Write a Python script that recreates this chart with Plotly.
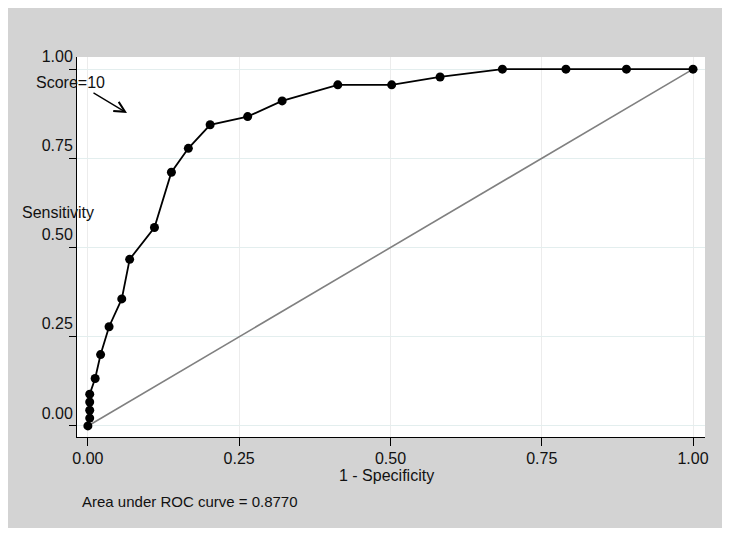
import plotly.graph_objects as go

# ROC curve points (1 - Specificity, Sensitivity)
one_minus_spec = [0.0, 0.003, 0.003, 0.003, 0.003, 0.012, 0.021, 0.035, 0.056, 0.069,
                  0.110, 0.138, 0.166, 0.202, 0.264, 0.321, 0.413, 0.502, 0.582,
                  0.685, 0.790, 0.890, 1.0]
sensitivity = [0.0, 0.022, 0.044, 0.067, 0.089, 0.133, 0.200, 0.278, 0.356, 0.467,
               0.556, 0.711, 0.778, 0.844, 0.867, 0.911, 0.956, 0.956, 0.978,
               1.0, 1.0, 1.0, 1.0]
ref_x = [0.0, 1.0]
ref_y = [0.0, 1.0]
tick_vals = [0.0, 0.25, 0.5, 0.75, 1.0]
tick_text = ["0.00", "0.25", "0.50", "0.75", "1.00"]
auc_text = "Area under ROC curve = 0.8770"

# page is offset by the 8px body margin
OFF = 8
W, H = 714, 520
L, R, T, B = 69, 17, 49, 91
pw, ph = W - L - R, H - T - B

def px(xp):
    return (xp - OFF - L) / pw

def py(yp):
    return (H - B - (yp - OFF)) / ph

FONT = "Liberation Sans, Arial, sans-serif"

fig = go.Figure()
fig.add_trace(go.Scatter(x=ref_x, y=ref_y, mode="lines",
                         line=dict(color="#808080", width=1.6),
                         showlegend=False, hoverinfo="skip"))
fig.add_trace(go.Scatter(x=one_minus_spec, y=sensitivity, mode="lines+markers",
                         line=dict(color="black", width=1.8),
                         marker=dict(color="black", size=9),
                         showlegend=False))

fig.update_layout(
    width=W, height=H,
    margin=dict(l=L, r=R, t=T, b=B),
    paper_bgcolor="#d3d3d3",
    plot_bgcolor="white",
    font=dict(family=FONT, size=16, color="#111111"),
    annotations=[
        dict(xref="paper", yref="paper", x=px(57.5), y=py(212.5), text="Sensitivity",
             showarrow=False, font=dict(size=16), xanchor="center", yanchor="middle"),
        dict(xref="paper", yref="paper", x=px(386), y=py(475.5), text="1 - Specificity",
             showarrow=False, font=dict(size=16), xanchor="center", yanchor="middle"),
        dict(xref="paper", yref="paper", x=px(80), y=py(501), text=auc_text,
             showarrow=False, font=dict(size=15), xanchor="left", yanchor="middle"),
        dict(xref="paper", yref="paper", x=px(70), y=py(82), text="Score=10",
             showarrow=False, font=dict(size=16), xanchor="center", yanchor="middle"),
        dict(xref="paper", yref="paper", x=px(127), y=py(113), text="",
             showarrow=True, ax=-35, ay=-21, arrowhead=5, arrowsize=1.6,
             arrowwidth=1.3, arrowcolor="black", standoff=0),
    ],
)

fig.update_xaxes(range=[-0.018, 1.0198], tickvals=tick_vals, ticktext=tick_text,
                 showline=True, linecolor="black", linewidth=1,
                 ticks="outside", ticklen=8, tickcolor="black",
                 showgrid=True, gridcolor="#ececec", gridwidth=1, zeroline=False,
                 ticklabelstandoff=-1,
                 tickfont=dict(size=16))
fig.update_yaxes(range=[-0.031, 1.034], tickvals=tick_vals, ticktext=tick_text,
                 showline=True, linecolor="black", linewidth=1,
                 ticks="outside", ticklen=7, tickcolor="black",
                 showgrid=True, gridcolor="#e3eeee", gridwidth=1, zeroline=False,
                 ticklabelshift=-13, ticklabelstandoff=-7,
                 tickfont=dict(size=16))

fig.write_html("out.html")
